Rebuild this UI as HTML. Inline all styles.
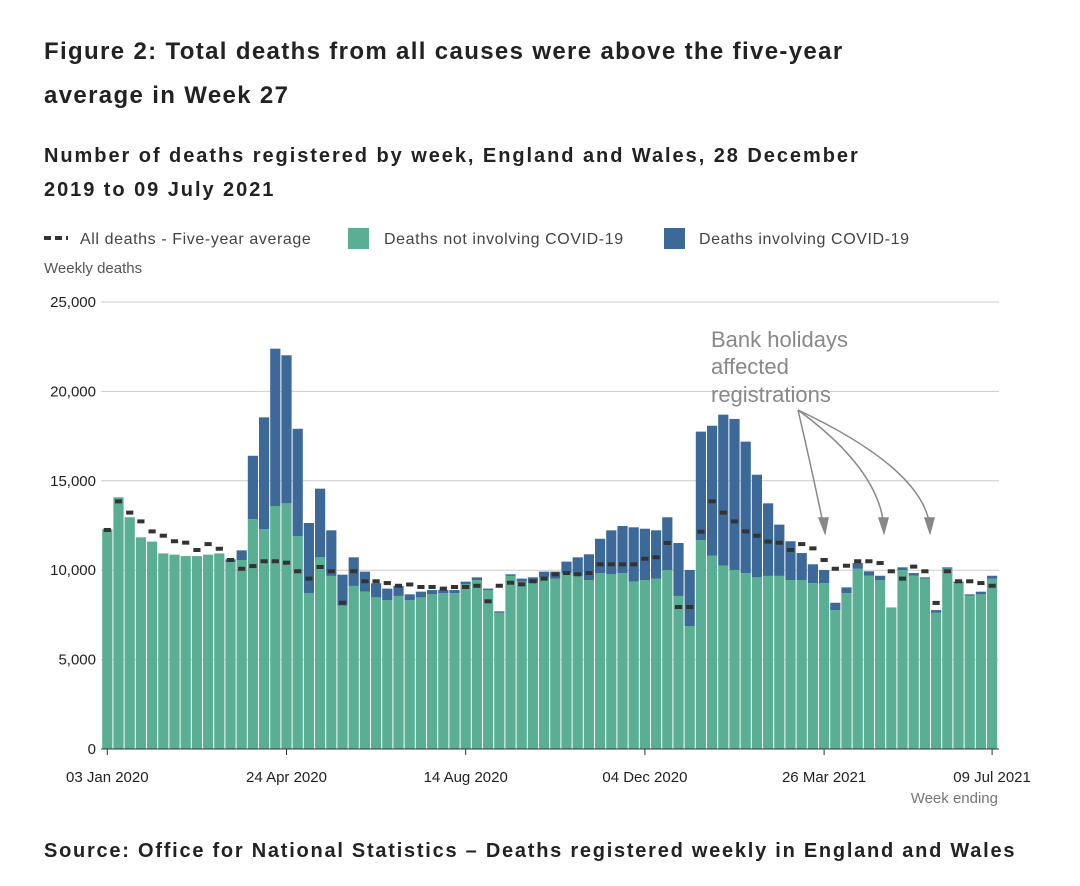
<!DOCTYPE html>
<html><head><meta charset="utf-8"><style>
body{margin:0;background:#fff;width:1080px;height:886px;overflow:hidden;font-family:"Liberation Sans",sans-serif;}
.t{position:absolute;left:44px;font-weight:bold;color:#222;white-space:nowrap;}
</style></head><body>
<div class="t" style="top:30px;font-size:24px;line-height:44px;letter-spacing:1.35px;">Figure 2: Total deaths from all causes were above the five-year<br>average in Week 27</div>
<div class="t" style="top:139px;font-size:20px;line-height:34px;letter-spacing:1.95px;">Number of deaths registered by week, England and Wales, 28 December<br>2019 to 09 July 2021</div>
<div class="t" style="top:840px;font-size:20px;letter-spacing:1.75px;">Source: Office for National Statistics – Deaths registered weekly in England and Wales</div>
<svg id="chart" width="1080" height="886" style="position:absolute;left:0;top:0">
<g font-size="16" fill="#444" letter-spacing="0.6">
<line x1="44" y1="238" x2="68" y2="238" stroke="#333" stroke-width="4" stroke-dasharray="7,4"/>
<text x="80" y="244">All deaths - Five-year average</text>
<rect x="348" y="228" width="21" height="21" fill="#5aae94"/>
<text x="384" y="244">Deaths not involving COVID-19</text>
<rect x="664" y="228" width="21" height="21" fill="#3c6997"/>
<text x="699" y="244">Deaths involving COVID-19</text>
</g>
<text x="44" y="273" font-size="15" fill="#555">Weekly deaths</text>
<text x="998" y="803" font-size="15" fill="#777" text-anchor="end">Week ending</text>
<g id="grid"></g><g id="bars"></g><g id="avg"></g><g id="axes"></g>
<g fill="none" stroke="#888" stroke-width="1.5">
<text x="711" y="347" font-size="22" fill="#888" stroke="none">Bank holidays</text>
<text x="711" y="374" font-size="22" fill="#888" stroke="none">affected</text>
<text x="711" y="402" font-size="22" fill="#888" stroke="none">registrations</text>
<path d="M798 410 Q812 470 824 528"/>
<path d="M798 410 Q880 470 884 528"/>
<path d="M798 410 Q925 470 930 528"/>
<path d="M819 518 L825 533 L828 518Z" fill="#888"/>
<path d="M879 518 L884 533 L888 518Z" fill="#888"/>
<path d="M925 518 L930 533 L934 518Z" fill="#888"/>
</g>
</svg>
<script>
const nonCovid=[12290,14080,12960,11840,11600,10940,10870,10790,10790,10870,10940,10460,10570,12860,12300,13590,13740,11910,8710,10720,9680,8020,9120,8800,8480,8330,8560,8330,8480,8650,8720,8720,9210,9450,8890,7620,9680,9360,9280,9600,9530,9840,9680,9450,9840,9770,9840,9360,9450,9530,10010,8560,6880,11690,10810,10250,10010,9840,9600,9680,9680,9450,9450,9280,9280,7770,8720,10080,9690,9450,7920,10010,9690,9530,7620,10080,9280,8570,8650,9530];
const totals=[12290,14080,12960,11840,11600,10940,10870,10790,10790,10870,10940,10610,11110,16400,18550,22390,22020,17910,12640,14560,12230,9750,10720,9920,9270,8970,9120,8650,8800,8890,8890,8890,9360,9600,8970,7700,9770,9530,9600,9920,9920,10480,10720,10890,11760,12230,12470,12400,12320,12230,12960,11520,10010,17750,18080,18700,18460,17190,15340,13740,12550,11620,10960,10330,10010,8180,9040,10400,9940,9690,7920,10160,9840,9600,7770,10160,9360,8650,8800,9690];
const fiveYearAvg=[12250,13850,13220,12730,12170,11930,11620,11540,11130,11460,11200,10570,10080,10230,10500,10500,10420,9940,9530,10180,9940,8180,9940,9380,9380,9280,9130,9200,9060,9060,8970,9060,9060,9130,8260,9130,9300,9210,9380,9530,9770,9840,9770,9840,10330,10330,10330,10330,10640,10720,11520,7940,7940,12150,13850,13220,12730,12170,11930,11600,11540,11130,11460,11220,10570,10080,10250,10500,10500,10400,9940,9530,10200,9940,8170,9940,9380,9380,9280,9130];
const yTicks=[0,5000,10000,15000,20000,25000];
const xLabels=["03 Jan 2020","24 Apr 2020","14 Aug 2020","04 Dec 2020","26 Mar 2021","09 Jul 2021"];
const xLabelIdx=[0,16,32,48,64,79];
const NS="http://www.w3.org/2000/svg";
const X0=101.7,X1=997.7,Y0=749,Y1=302,n=totals.length,step=(X1-X0)/n;
const y=v=>Y0-(v/25000)*(Y0-Y1);
const x=i=>X0+i*step;
function mk(t,a,p){const e=document.createElementNS(NS,t);for(const k in a)e.setAttribute(k,a[k]);p.appendChild(e);return e;}
const grid=document.getElementById('grid'),bars=document.getElementById('bars'),avg=document.getElementById('avg'),axes=document.getElementById('axes');
yTicks.forEach(v=>{
 const l=mk('line',{x1:101,x2:999,y1:y(v),y2:y(v),stroke:'#ccc','stroke-width':1},grid);
 
 
 const t=mk('text',{x:96,y:y(v)+5,'font-size':15,'text-anchor':'end',fill:'#222'},axes);
 t.textContent=v.toLocaleString('en-GB');
 
 
});
for(let i=0;i<n;i++){
 const g=mk('rect',{x:x(i)+0.5,y:y(nonCovid[i]),width:step-1,height:Y0-y(nonCovid[i]),fill:'#5aae94'},bars);
 
 
 const c=totals[i]-nonCovid[i];
 if(c>0){const b=mk('rect',{x:x(i)+0.5,y:y(totals[i]),width:step-1,height:y(nonCovid[i])-y(totals[i]),fill:'#3c6997'},bars);
 
 }
 const d=mk('line',{x1:x(i)+2,x2:x(i)+step-2,y1:y(fiveYearAvg[i]),y2:y(fiveYearAvg[i]),stroke:'#333','stroke-width':4},avg);
 
 
}
mk('line',{x1:101,x2:999,y1:Y0,y2:Y0,stroke:'#333','stroke-width':1},axes);
xLabels.forEach((s,k)=>{
 const cx=x(xLabelIdx[k])+step/2;
 mk('line',{x1:cx,x2:cx,y1:Y0,y2:Y0+6,stroke:'#333'},axes);
 const t=mk('text',{x:cx,y:782,'font-size':15,'text-anchor':'middle',fill:'#222'},axes);
 t.textContent=s;
 
 
});
</script>
</body></html>
